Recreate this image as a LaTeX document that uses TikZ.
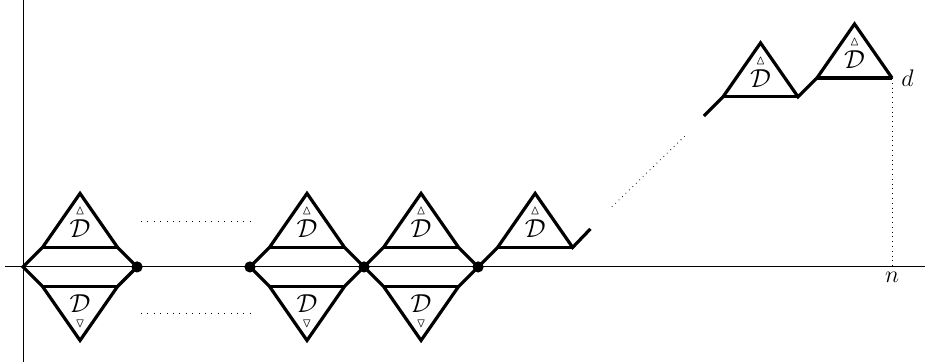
\RequirePackage{fix-cm}
\documentclass[tikz,border=0pt,11pt]{standalone}
\usepackage{amsmath,amssymb}
\tikzset{
  path/.style={line width=1.6pt, line join=miter},
  axis/.style={line width=0.5pt},
  gap/.style={dash pattern=on 0.4pt off 2.8pt},
  lab/.style={font=\fontsize{13}{15}\selectfont, inner sep=0pt},
  tag/.style={font=\fontsize{12}{14}\selectfont},
}
\begin{document}
\begin{tikzpicture}[x=9.75pt,y=9.75pt]
    \def\upD{$\overset{\scriptscriptstyle\vartriangle}{\mathcal{D}}$}
    \def\dnD{$\underset{\scriptscriptstyle\triangledown}{\mathcal{D}}$}
    \useasboundingbox (-1.18,-4.87) rectangle (46.26,13.69);
    % axes
    \coordinate (xl) at (-0.92,0);
    \coordinate (xr) at (46.26,0);
    \coordinate (yb) at (0,-4.87);
    \coordinate (yt) at (0,13.69);
    \draw [axis] (xl) -- (xr);
    \draw [axis] (yb) -- (yt);
    % up and down excursions
    \foreach \x [count=\i] in {0,11.64,17.49}{
        \draw [path] (\x,0) -- ++(1,1) -- ++(1.925,2.77) -- ++(1.925,-2.77) -- ++(1,-1)
            -- ++(-1,-1) -- ++(-1.925,-2.77) -- ++(-1.925,2.77) -- cycle;
        \draw [path] (\x+1,1) -- ++(3.85,0) (\x+1,-1) -- ++(3.85,0);
        \node [lab] (up\i) at (\x+2.925,2.33) {\upD};
        \node [lab] (dn\i) at (\x+2.925,-2.33) {\dnD};
    }
    \foreach \x in {5.85,11.64,17.49,23.34}
        \fill (\x,0) circle (2.8pt);
    % climbing part
    \draw [path] (23.34,0) -- (24.34,1) -- (26.265,3.77) -- (28.19,1) -- (29.1,1.95);
    \draw [path] (24.34,1) -- (28.19,1);
    \node [lab] (up4) at (26.265,2.33) {\upD};
    \draw [path] (34.92,7.74) -- (35.9,8.72) -- (37.825,11.49) -- (39.75,8.72)
        -- (40.72,9.69) -- (42.645,12.46) -- (44.57,9.69) coordinate (top);
    \draw [path] (35.9,8.72) -- (39.75,8.72) (40.72,9.69) -- (44.57,9.69);
    \node [lab] (up5) at (37.825,10.05) {\upD};
    \node [lab] (up6) at (42.645,11.02) {\upD};
    % dots between
    \draw [gap] (6.05,2.31) -- (11.69,2.31);
    \draw [gap] (6.05,-2.36) -- (11.69,-2.36);
    \draw [dotted] (30.2,3.08) -- (34.0,6.77);
    \coordinate (foot) at (44.57,0);
    \draw [dotted] (top) -- (foot);
    \node [tag, anchor=west, inner sep=4.5pt] (d) at (top) {$d$};
    \node [tag, below, inner sep=2.5pt] (n) at (foot) {$n$};
\end{tikzpicture}
\end{document}
